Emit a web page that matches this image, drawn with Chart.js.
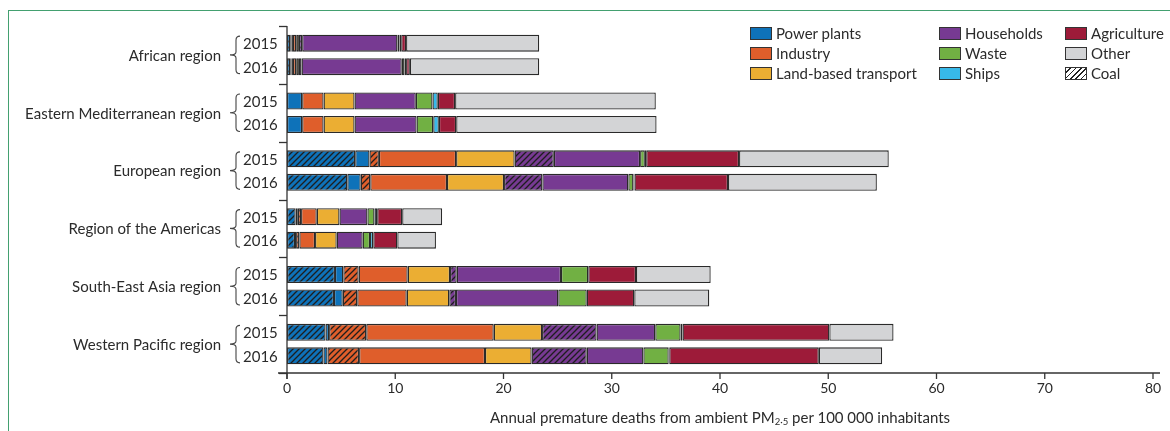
<!DOCTYPE html>
<html><head><meta charset="utf-8">
<script src="https://cdn.jsdelivr.net/npm/chart.js@4.4.1/dist/chart.umd.min.js"></script>
<style>
html,body{margin:0;padding:0;background:#fff;}
#wrap{position:relative;width:1170px;height:431px;overflow:hidden;font-family:Lato,'Open Sans',sans-serif;color:#2b2b2b;}
#frame{position:absolute;left:8px;top:10px;width:1300px;height:600px;border-top:1.5px solid #43a070;border-left:1.5px solid #43a070;}
canvas{position:absolute;left:0;top:0;}
.lg{position:absolute;font-size:15px;height:16px;line-height:16px;display:flex;align-items:center;white-space:nowrap;color:#2b2b2b;}
.sw{width:20px;height:11px;border:1.3px solid #333;margin-right:4px;flex:none;}
#xt{position:absolute;top:408px;left:287px;width:866px;text-align:center;font-size:15px;color:#2b2b2b;}
#xt sub{font-size:9.5px;vertical-align:-2px;line-height:0;}
</style></head>
<body><div id="wrap"><div id="frame"></div><canvas id="c" width="1170" height="431" style="width:1170px;height:431px"></canvas>
<div id="legend"></div>
<div id="xt">Annual premature deaths from ambient PM<sub>2·5</sub> per 100 000 inhabitants</div>
</div>
<script>
// ---- DATA ----
const regions = ["African region","Eastern Mediterranean region","European region","Region of the Americas","South-East Asia region","Western Pacific region"];
const years = ["2015","2016"];
const xTicks = [0,10,20,30,40,50,60,70,80];
// order: African, E. Mediterranean, European, Americas, SE Asia, W Pacific
const powerCoal2015      = [0.3, 0,    6.3,  0.8,  4.43, 3.56];
const powerCoal2016      = [0.3, 0,    5.57, 0.74, 4.34, 3.37];
const powerOther2015     = [0.1, 1.4,  1.32, 0.2,  0.77, 0.33];
const powerOther2016     = [0.1, 1.4,  1.24, 0.1,  0.81, 0.37];
const industryCoal2015   = [0.15,0,    0.87, 0.3,  1.42, 3.43];
const industryCoal2016   = [0.15,0,    0.88, 0.3,  1.34, 2.92];
const industryOther2015  = [0.3, 1.98, 7.13, 1.45, 4.53, 11.78];
const industryOther2016  = [0.3, 1.98, 7.09, 1.45, 4.57, 11.63];
const transport2015      = [0.25,2.86, 5.41, 2.1,  3.91, 4.46];
const transport2016      = [0.25,2.86, 5.27, 2.0,  3.93, 4.31];
const householdsCoal2015 = [0.3, 0,    3.62, 0,    0.62, 5.04];
const householdsCoal2016 = [0.25,0,    3.54, 0,    0.62, 5.09];
const householdsOther2015= [8.8, 5.66, 7.97, 2.58, 9.63, 5.42];
const householdsOther2016= [9.25,5.73, 7.94, 2.4,  9.45, 5.23];
const waste2015          = [0.2, 1.54, 0.44, 0.65, 2.52, 2.34];
const waste2016          = [0.25,1.54, 0.47, 0.68, 2.63, 2.34];
const ships2015          = [0.15,0.49, 0.12, 0.25, 0,    0.18];
const ships2016          = [0.15,0.52, 0.1,  0.3,  0,    0.05];
const agriculture2015    = [0.45,1.6,  8.58, 2.31, 4.41, 13.56];
const agriculture2016    = [0.35,1.6,  8.64, 2.22, 4.39, 13.82];
const other2015          = [12.3,18.54,13.83,3.69, 6.9,  5.93];
const other2016          = [11.95,18.51,13.75,3.57,6.93, 5.85];

// ---- STYLE ----
const C = {power:'#0e72b9', industry:'#df5e2b', transport:'#ebae33', households:'#773a92', waste:'#71b043', ships:'#37b9e9', agriculture:'#9d1b39', other:'#d3d4d6'};
const edge = '#2a2a2a';
const textCol = '#2b2b2b';

function hatch(color){
  const t = document.createElement('canvas'); t.width = 6; t.height = 6;
  const g = t.getContext('2d');
  g.fillStyle = color; g.fillRect(0,0,6,6);
  g.strokeStyle = '#1e1e1e'; g.lineWidth = 1.3;
  g.beginPath();
  g.moveTo(0,6); g.lineTo(6,0);
  g.moveTo(-1,1); g.lineTo(1,-1);
  g.moveTo(5,7); g.lineTo(7,5);
  g.stroke();
  return document.getElementById('c').getContext('2d').createPattern(t,'repeat');
}

const segs = [
  ['Power plants (coal)', powerCoal2015, powerCoal2016, hatch(C.power)],
  ['Power plants', powerOther2015, powerOther2016, C.power],
  ['Industry (coal)', industryCoal2015, industryCoal2016, hatch(C.industry)],
  ['Industry', industryOther2015, industryOther2016, C.industry],
  ['Land-based transport', transport2015, transport2016, C.transport],
  ['Households (coal)', householdsCoal2015, householdsCoal2016, hatch(C.households)],
  ['Households', householdsOther2015, householdsOther2016, C.households],
  ['Waste', waste2015, waste2016, C.waste],
  ['Ships', ships2015, ships2016, C.ships],
  ['Agriculture', agriculture2015, agriculture2016, C.agriculture],
  ['Other', other2015, other2016, C.other]
];

const datasets = [];
[0,1].forEach(yi => {
  segs.forEach(s => {
    datasets.push({
      label: s[0] + ' ' + years[yi],
      data: (yi === 0 ? s[1] : s[2]).map(v => v > 0 ? v : null),
      backgroundColor: s[3],
      borderColor: edge,
      borderWidth: 1.3,
      borderSkipped: false,
      stack: years[yi],
      categoryPercentage: 0.813,
      barPercentage: 0.72
    });
  });
});

const axesPlugin = {
  id: 'axesDecor',
  afterDraw(chart){
    const ctx = chart.ctx, a = chart.chartArea, xs = chart.scales.x, ys = chart.scales.y;
    ctx.save();
    ctx.strokeStyle = '#333'; ctx.lineWidth = 1.3;
    ctx.beginPath(); ctx.moveTo(a.left, a.top); ctx.lineTo(a.left, a.bottom + 6); ctx.stroke();
    const n = regions.length, h = (a.bottom - a.top) / n;
    for (let k = 0; k <= n; k++) {
      const y = Math.round(a.top + k*h) + 0.5;
      ctx.beginPath(); ctx.moveTo(a.left - 8, y); ctx.lineTo(a.left, y); ctx.stroke();
    }
    ctx.beginPath(); ctx.moveTo(a.left - 9, a.bottom); ctx.lineTo(a.right + 7, a.bottom); ctx.stroke();
    xTicks.forEach(v => {
      const x = xs.getPixelForValue(v);
      ctx.beginPath(); ctx.moveTo(x, a.bottom); ctx.lineTo(x, a.bottom + 6); ctx.stroke();
    });
    ctx.fillStyle = textCol;
    ctx.textBaseline = 'middle';
    const m15 = chart.getDatasetMeta(0), m16 = chart.getDatasetMeta(segs.length);
    regions.forEach((r, j) => {
      const yc = ys.getPixelForValue(j);
      const y1 = m15.data[j].y, y2 = m16.data[j].y;
      ctx.font = '15px Lato, "Open Sans", sans-serif';
      ctx.textAlign = 'right';
      ctx.fillText(r, 221, yc + 1);
      ctx.textAlign = 'left';
      ctx.fillText(years[0], 243, y1 + 1);
      ctx.fillText(years[1], 243, y2 + 1);
      const top = y1 - 7, bot = y2 + 7, xm = 236, xr = 240, xl = 230;
      ctx.lineWidth = 1.1; ctx.strokeStyle = '#444';
      ctx.beginPath();
      ctx.moveTo(xr, top);
      ctx.quadraticCurveTo(xm, top, xm, top + 4);
      ctx.lineTo(xm, yc - 3);
      ctx.quadraticCurveTo(xm, yc, xl, yc);
      ctx.quadraticCurveTo(xm, yc, xm, yc + 3);
      ctx.lineTo(xm, bot - 4);
      ctx.quadraticCurveTo(xm, bot, xr, bot);
      ctx.stroke();
    });
    ctx.restore();
  }
};

new Chart(document.getElementById('c'), {
  type: 'bar',
  data: { labels: regions, datasets },
  options: {
    responsive: false, animation: false, indexAxis: 'y',
    devicePixelRatio: 1,
    layout: { padding: { top: 26, right: 17, left: 0, bottom: 0 } },
    plugins: { legend: { display: false }, tooltip: { enabled: false } },
    scales: {
      x: { stacked: true, min: 0, max: 80,
           ticks: { stepSize: 10, font: { family: 'Lato', size: 14 }, color: textCol, padding: 7 },
           grid: { display: false, drawTicks: false }, border: { display: false },
           afterFit(s){ s.height = 58; } },
      y: { stacked: true, ticks: { display: false },
           grid: { display: false, drawTicks: false }, border: { display: false },
           afterFit(s){ s.width = 287; } }
    }
  },
  plugins: [axesPlugin]
});

// ---- LEGEND (HTML) ----
const legendItems = [
  ['Power plants', C.power, 0, 0], ['Industry', C.industry, 0, 1], ['Land-based transport', C.transport, 0, 2],
  ['Households', C.households, 1, 0], ['Waste', C.waste, 1, 1], ['Ships', C.ships, 1, 2],
  ['Agriculture', C.agriculture, 2, 0], ['Other', C.other, 2, 1], ['Coal', 'coal', 2, 2]
];
const colX = [750, 939, 1065], rowY = [33, 53, 73];
const lg = document.getElementById('legend');
legendItems.forEach(it => {
  const d = document.createElement('div'); d.className = 'lg';
  d.style.left = colX[it[2]] + 'px'; d.style.top = (rowY[it[3]] - 8) + 'px';
  const sw = document.createElement('span'); sw.className = 'sw';
  if (it[1] === 'coal') sw.style.background = 'repeating-linear-gradient(135deg,#fff 0 2.6px,#222 2.6px 3.8px)';
  else sw.style.background = it[1];
  d.appendChild(sw);
  d.appendChild(document.createTextNode(it[0]));
  lg.appendChild(d);
});
</script>
</body></html>
